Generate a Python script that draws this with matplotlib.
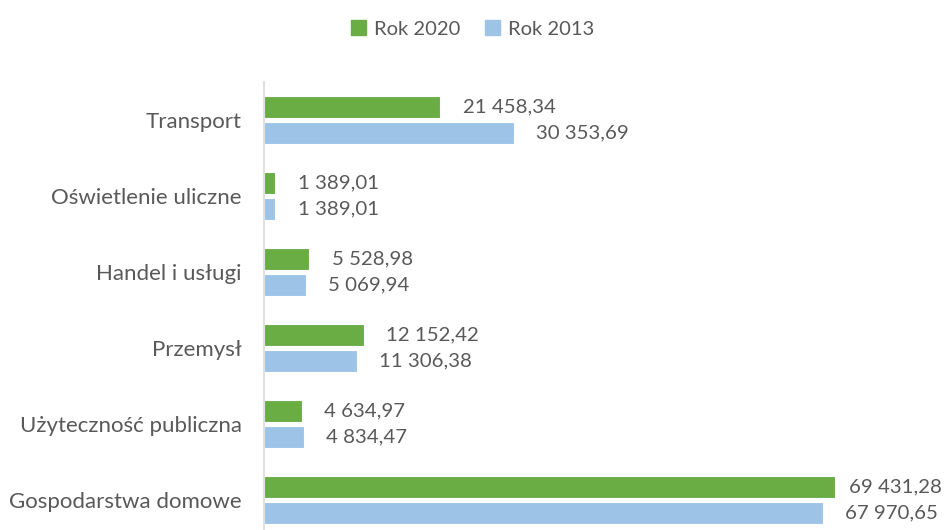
import numpy as np
import matplotlib.pyplot as plt
from matplotlib.patches import Patch

plt.rcParams['font.family'] = ['Lato', 'DejaVu Sans']

categories = ["Transport", "Oświetlenie uliczne", "Handel i usługi",
              "Przemysł", "Użyteczność publiczna", "Gospodarstwa domowe"]
rok_2020 = [21458.34, 1389.01, 5528.98, 12152.42, 4634.97, 69431.28]
rok_2013 = [30353.69, 1389.01, 5069.94, 11306.38, 4834.47, 67970.65]

green = "#6aad45"
blue = "#9dc3e6"
txt = "#595959"


def fmt(v):
    s = f"{v:,.2f}"
    return s.replace(",", " ").replace(".", ",")


fig = plt.figure(figsize=(9.45, 5.3), dpi=100)
ax = fig.add_axes([264 / 945, -8 / 530, (922 - 264) / 945, (538 - 82) / 530])

y = np.arange(len(categories))
off = 0.17
h = 0.3
ax.barh(y - off, rok_2020, height=h, color=green, edgecolor="white", linewidth=0.8)
ax.barh(y + off, rok_2013, height=h, color=blue, edgecolor="white", linewidth=0.8)

labels = []
for yi, v in zip(y, rok_2020):
    labels.append(ax.annotate(fmt(v), (v, yi - off), xytext=(16, 0), textcoords="offset points",
                              va="center", ha="left", fontsize=14.7, color=txt))
for yi, v in zip(y, rok_2013):
    labels.append(ax.annotate(fmt(v), (v, yi + off), xytext=(16, 0), textcoords="offset points",
                              va="center", ha="left", fontsize=14.7, color=txt))

ax.set_xlim(0, 80000)
ax.set_ylim(len(categories) - 0.5, -0.5)
ax.set_yticks(y)
ax.set_yticklabels(categories, fontsize=16, color=txt)
ax.tick_params(axis="y", length=0, pad=16)
ax.set_xticks([])
for s in ["top", "right", "bottom"]:
    ax.spines[s].set_visible(False)
ax.spines["left"].set_color("#d9d9d9")
ax.spines["left"].set_linewidth(1.2)

handles = [Patch(color=green, label="Rok 2020"), Patch(color=blue, label="Rok 2013")]
fig.legend(handles=handles, loc="center", bbox_to_anchor=(0.5, 1 - 29 / 530), ncol=2,
           frameon=False, fontsize=14.5, labelcolor=txt, handlelength=0.75,
           handleheight=0.75, handletextpad=0.4, columnspacing=1.2)

# keep labels inside the figure, like the original does
fig.canvas.draw()
r = fig.canvas.get_renderer()
for t in labels:
    bb = t.get_window_extent(r)
    if bb.x1 > 942:
        dx = (bb.x1 - 942) * 72 / fig.dpi
        t.xyann = (16 - dx, 0)

fig.savefig("out.png", dpi=100)
